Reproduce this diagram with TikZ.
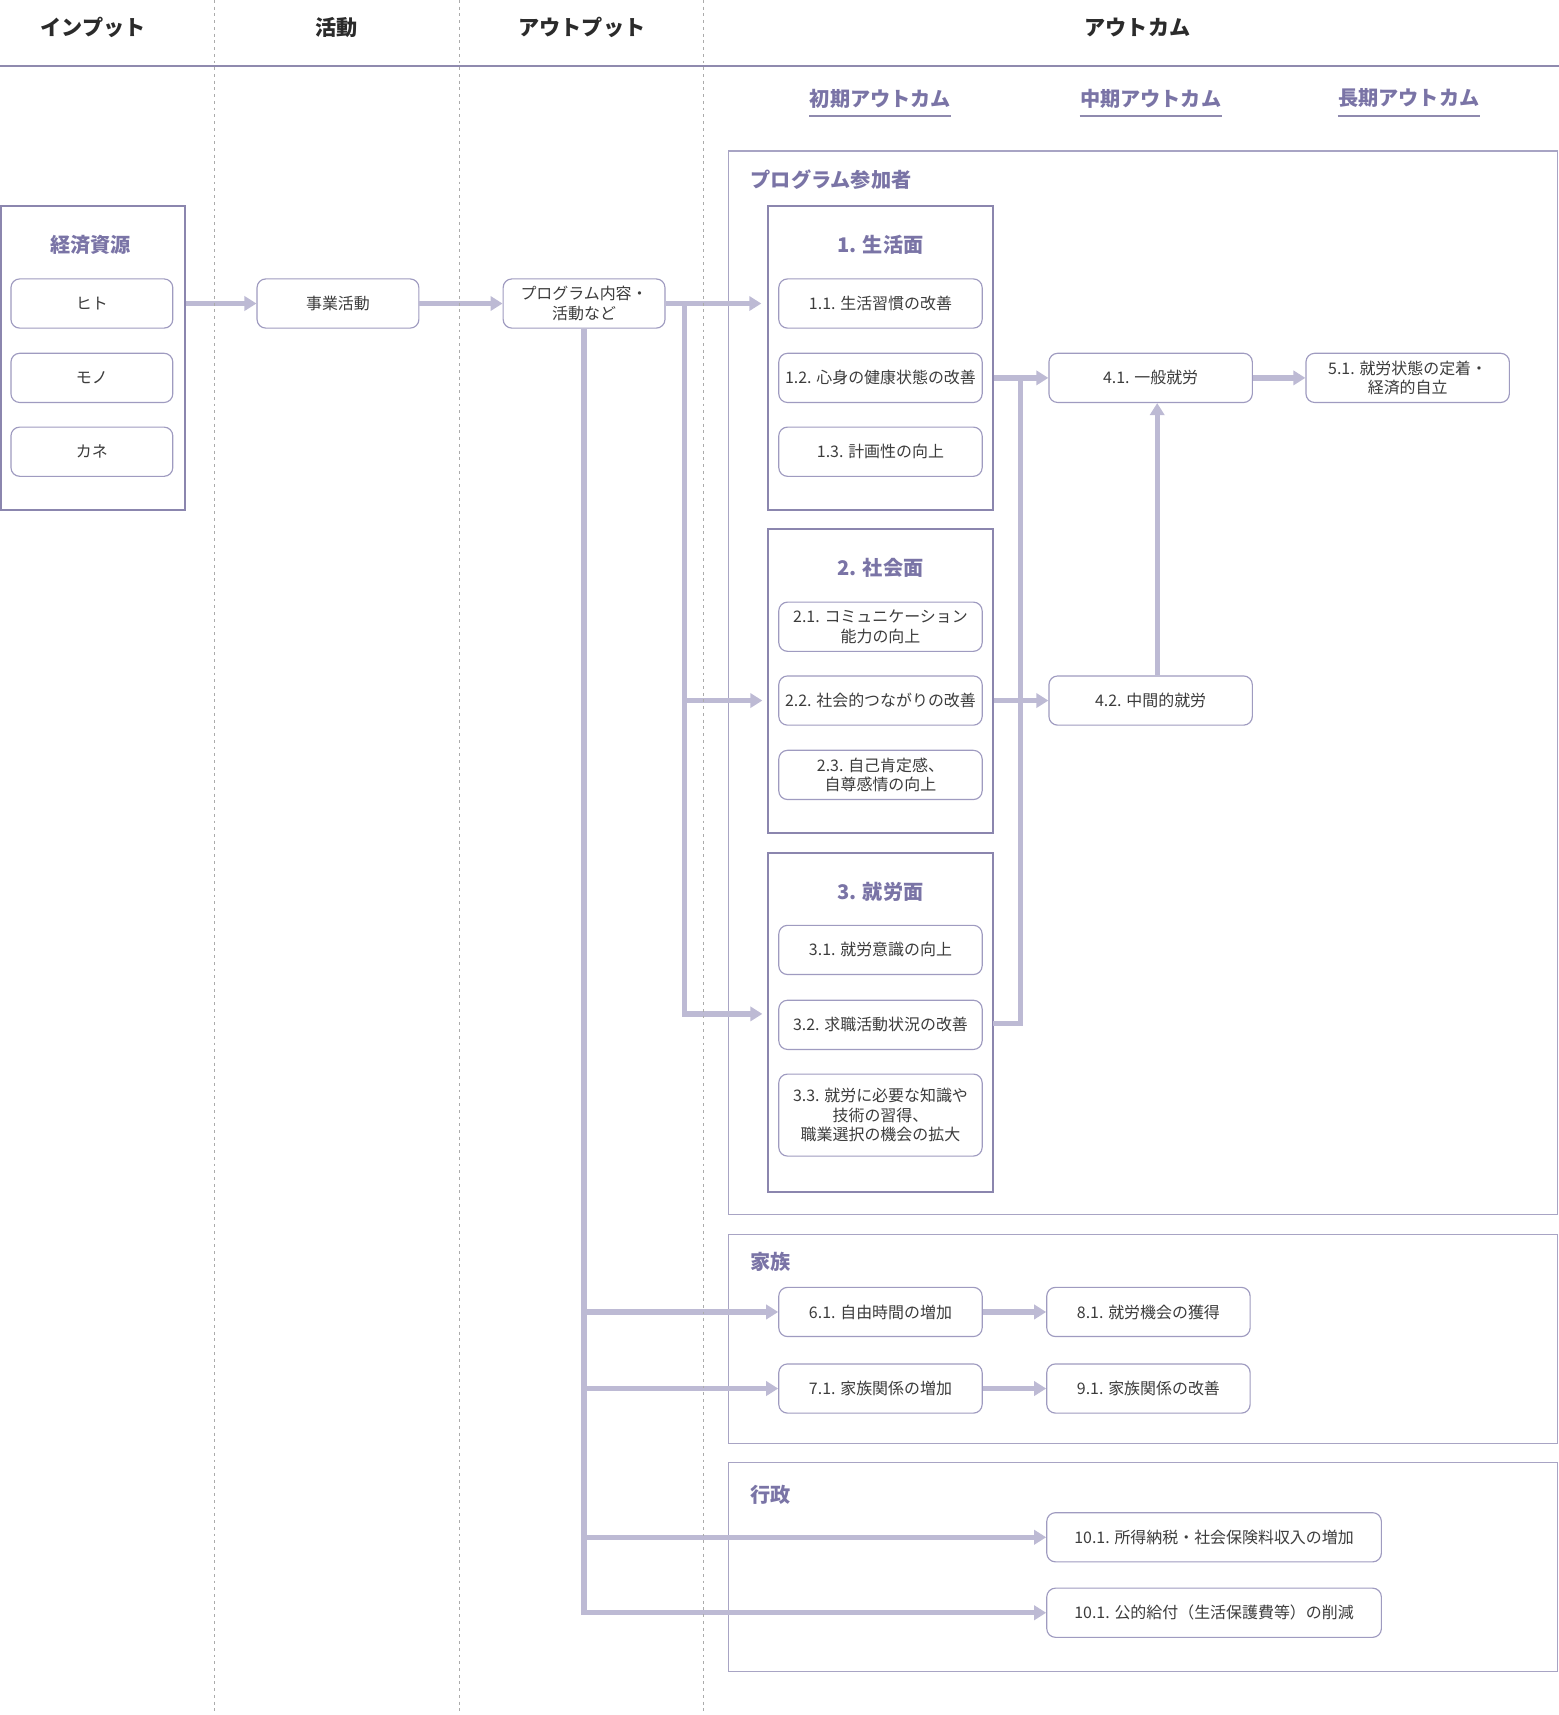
\documentclass[tikz,border=0pt]{standalone}
\usepackage{fontspec}
\setmainfont{Noto Sans CJK JP}
\usetikzlibrary{arrows.meta,positioning}
\definecolor{flowcol}{HTML}{BDBAD4}
\definecolor{rulecol}{HTML}{8F8AAE}
\definecolor{grpline}{HTML}{8B86AE}
\definecolor{itemline}{HTML}{9F9BC0}
\definecolor{zoneline}{HTML}{A8A4C4}
\definecolor{ttltext}{HTML}{7A74A6}
\definecolor{headtext}{HTML}{2B2B2B}
\definecolor{itemtext}{HTML}{3C3C3C}
\definecolor{sepcol}{HTML}{ABABAB}
\begin{document}
\begin{tikzpicture}[x=0.02cm,y=-0.02cm,
    head/.style={font=\fontsize{11}{13}\selectfont\bfseries,text=headtext},
    ttl/.style={font=\fontsize{10.5}{12}\selectfont\bfseries,text=ttltext,inner sep=0pt},
    item/.style={draw=itemline,line width=0.6pt,rounded corners=1.6mm,fill=white,
        minimum width=3.72cm,minimum height=0.9cm,align=center,inner sep=1pt,
        text=itemtext,font=\fontsize{8.3}{10.2}\selectfont},
    small/.style={item,minimum width=2.96cm},
    wide/.style={item,minimum width=6.12cm},
    grp/.style={draw=grpline,line width=1.1pt,minimum width=4.12cm},
    zone/.style={draw=zoneline,line width=0.6pt},
    rule/.style={draw=rulecol,line width=1.1pt},
    flow/.style={draw=flowcol,line width=2.8pt,-{Triangle[width=0.26cm,length=0.22cm]}},
    feed/.style={draw=flowcol,line width=2.8pt},
    sep/.style={draw=sepcol,line width=0.4pt,dash pattern=on 1.5pt off 2pt}]
    \useasboundingbox (0,0) rectangle (1425,1568);
    %% Columns
    \draw[rule] (0,60) -- (1425,60);
    \node[head] (hin) at (85,25) {インプット};
    \node[head] (hact) at (308,25) {活動};
    \node[head] (hout) at (532,25) {アウトプット};
    \node[head] (hoc) at (1040,25) {アウトカム};
    %% Outcome stages
    \node[ttl] (early) at (805,90) {初期アウトカム};
    \node[ttl] (mid) at (1052,90) {中期アウトカム};
    \node[ttl] (long) at (1288,90) {長期アウトカム};
    \foreach \n in {early,mid,long}
        \draw[rule] ([yshift=-0.14cm]\n.south west) -- ([yshift=-0.14cm]\n.south east);
    %% Zones
    \draw[zone] (666,138) rectangle (1424,1110);
    \draw[zone] (666,1129) rectangle (1424,1320);
    \draw[zone] (666,1337) rectangle (1424,1528);
    \node[ttl,anchor=west] (zprog) at (686,164) {プログラム参加者};
    \node[ttl,anchor=west] (zfam) at (686,1154) {家族};
    \node[ttl,anchor=west] (zgov) at (686,1367) {行政};
    %% Inputs and activities
    \node[grp,minimum width=3.36cm,minimum height=5.56cm] (res) at (85,327) {};
    \node[ttl] (rest) at (83,224) {経済資源};
    \node[small] (hito) at (84,277.5) {ヒト};
    \node[small] (mono) at (84,345.5) {モノ};
    \node[small] (kane) at (84,413) {カネ};
    \node[small] (biz) at (309,277.5) {事業活動};
    \node[small] (prog) at (534,277.5) {プログラム内容・\\活動など};
    %% Participants
    \node[grp,minimum height=5.56cm] (g1) at (805,327) {};
    \node[ttl] (g1t) at (805,224) {1. 生活面};
    \node[item] (s11) at (805,277.5) {1.1. 生活習慣の改善};
    \node[item] (s12) at (805,345.5) {1.2. 心身の健康状態の改善};
    \node[item] (s13) at (805,413) {1.3. 計画性の向上};
    \node[grp,minimum height=5.56cm] (g2) at (805,623) {};
    \node[ttl] (g2t) at (805,519) {2. 社会面};
    \node[item] (s21) at (805,573) {2.1. コミュニケーション\\能力の向上};
    \node[item] (s22) at (805,640.5) {2.2. 社会的つながりの改善};
    \node[item] (s23) at (805,708.5) {2.3. 自己肯定感、\\自尊感情の向上};
    \node[grp,minimum height=6.2cm] (g3) at (805,935) {};
    \node[ttl] (g3t) at (805,815) {3. 就労面};
    \node[item] (s31) at (805,868.5) {3.1. 就労意識の向上};
    \node[item] (s32) at (805,937) {3.2. 求職活動状況の改善};
    \node[item,minimum height=1.5cm] (s33) at (805,1019.5) {3.3. 就労に必要な知識や\\技術の習得、\\職業選択の機会の拡大};
    \node[item] (e41) at (1052,345.5) {4.1. 一般就労};
    \node[item] (e42) at (1052,640.5) {4.2. 中間的就労};
    \node[item] (e51) at (1287,345.5) {5.1. 就労状態の定着・\\経済的自立};
    %% Family
    \node[item] (f61) at (805,1199.5) {6.1. 自由時間の増加};
    \node[item] (f81) at (1050,1199.5) {8.1. 就労機会の獲得};
    \node[item] (f71) at (805,1269.5) {7.1. 家族関係の増加};
    \node[item] (f91) at (1050,1269.5) {9.1. 家族関係の改善};
    %% Government
    \node[wide] (t1) at (1110,1405.5) {10.1. 所得納税・社会保険料収入の増加};
    \node[wide] (t2) at (1110,1474.5) {10.1. 公的給付（生活保護費等）の削減};
    %% Arrows
    \coordinate (split) at (626,277.5);
    \coordinate (in2) at (697,640.5);
    \coordinate (in3) at (697,927);
    \coordinate (out3) at (908,936);
    \coordinate (hub) at (933,345.5);
    \draw[flow] (res.east |- hito) -- (biz);
    \draw[flow] (biz) -- (prog);
    \draw[flow,shorten >=0.1cm] (prog.east) -- (g1.west |- prog.east);
    \draw[flow] (split) |- (in3);
    \draw[flow] (split |- in2) -- (in2);
    \draw[flow] (g1.east |- s12) -- (e41);
    \draw[flow] (g2.east |- s22) -- (e42);
    \draw[feed] (out3) -| (hub);
    \draw[flow] ([xshift=0.12cm]e42.north) -- ([xshift=0.12cm]e41.south);
    \draw[flow] (e41) -- (e51);
    \draw[flow] (prog.south) |- (t2);
    \draw[flow] (prog.south |- f61) -- (f61);
    \draw[flow] (prog.south |- f71) -- (f71);
    \draw[flow] (prog.south |- t1) -- (t1);
    \draw[flow] (f61) -- (f81);
    \draw[flow] (f71) -- (f91);
    %% Column separators
    \foreach \x in {196,420,643} \draw[sep] (\x,0) -- (\x,1568);
\end{tikzpicture}
\end{document}
